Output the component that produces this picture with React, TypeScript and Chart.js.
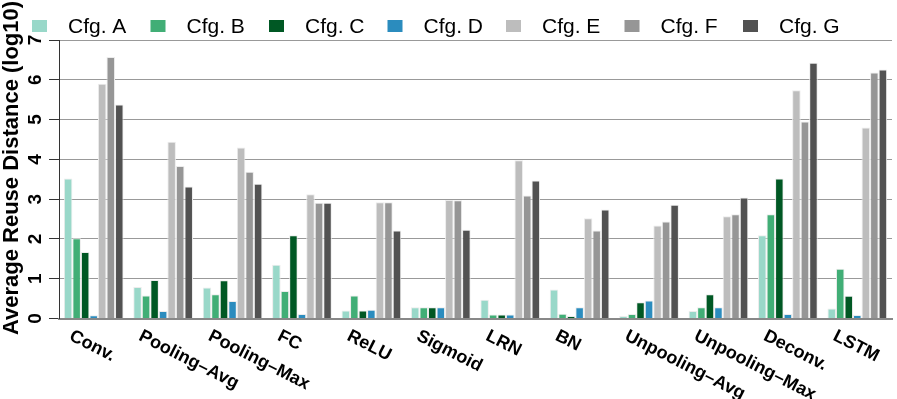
import React, { useEffect, useRef } from "react";
import { Chart, registerables } from "chart.js";

Chart.register(...registerables);

const categories = ["Conv.", "Pooling–Avg", "Pooling–Max", "FC", "ReLU", "Sigmoid", "LRN", "BN", "Unpooling–Avg", "Unpooling–Max", "Deconv.", "LSTM"];
const seriesNames = ["Cfg. A", "Cfg. B", "Cfg. C", "Cfg. D", "Cfg. E", "Cfg. F", "Cfg. G"];
const seriesColors = ["#99d8c9", "#41ae76", "#005824", "#2b8cbe", "#bdbdbd", "#969696", "#525252"];
const cfgA = [3.52, 0.79, 0.78, 1.35, 0.2, 0.28, 0.47, 0.73, 0.06, 0.19, 2.09, 0.25];
const cfgB = [2.02, 0.58, 0.61, 0.69, 0.58, 0.28, 0.1, 0.12, 0.11, 0.28, 2.62, 1.25];
const cfgC = [1.67, 0.97, 0.96, 2.09, 0.2, 0.28, 0.1, 0.06, 0.41, 0.61, 3.52, 0.57];
const cfgD = [0.08, 0.19, 0.44, 0.11, 0.22, 0.28, 0.1, 0.28, 0.45, 0.28, 0.11, 0.09];
const cfgE = [5.9, 4.44, 4.3, 3.12, 2.92, 2.98, 3.98, 2.52, 2.34, 2.57, 5.74, 4.8];
const cfgF = [6.57, 3.83, 3.69, 2.91, 2.92, 2.97, 3.09, 2.21, 2.44, 2.62, 4.95, 6.18];
const cfgG = [5.38, 3.32, 3.39, 2.91, 2.21, 2.23, 3.47, 2.74, 2.86, 3.04, 6.43, 6.26];
const seriesValues = [cfgA, cfgB, cfgC, cfgD, cfgE, cfgF, cfgG];
const yTitle = "Average Reuse Distance (log10)";
const yMin = 0;
const yMax = 7;

const FONT = "'Liberation Sans', Arial, Helvetica, sans-serif";

const decorPlugin = {
  id: "decor",
  afterDraw(chart: any) {
    const ctx = chart.ctx;
    const xs = chart.scales.x;
    const ys = chart.scales.y;
    // x labels
    ctx.save();
    ctx.fillStyle = "#000";
    ctx.font = `bold 18px ${FONT}`;
    ctx.textAlign = "left";
    ctx.textBaseline = "top";
    chart.data.labels.forEach((lab: string, i: number) => {
      const px = xs.getPixelForValue(i);
      ctx.save();
      ctx.translate(px - 19, 327);
      ctx.rotate((27 * Math.PI) / 180);
      ctx.fillText(lab, 0, 0);
      ctx.restore();
    });
    ctx.restore();
    // y tick labels (rotated)
    ctx.save();
    ctx.fillStyle = "#000";
    ctx.font = `bold 19px ${FONT}`;
    ctx.textAlign = "center";
    ctx.textBaseline = "middle";
    ys.ticks.forEach((t: any) => {
      const py = ys.getPixelForValue(t.value);
      ctx.save();
      ctx.translate(36, py);
      ctx.rotate(-Math.PI / 2);
      ctx.fillText(String(t.value), 0, 0);
      ctx.restore();
    });
    ctx.restore();
    // y title
    ctx.save();
    ctx.fillStyle = "#000";
    ctx.font = `bold 22px ${FONT}`;
    ctx.textAlign = "center";
    ctx.textBaseline = "middle";
    ctx.translate(12, 168);
    ctx.rotate(-Math.PI / 2);
    ctx.fillText(yTitle, 0, 0);
    ctx.restore();
    // legend
    ctx.save();
    ctx.font = `21px ${FONT}`;
    ctx.textAlign = "left";
    ctx.textBaseline = "middle";
    chart.data.datasets.forEach((ds: any, i: number) => {
      const x0 = 32 + i * 118.5;
      ctx.fillStyle = ds.backgroundColor;
      ctx.fillRect(x0, 20, 15, 12);
      ctx.fillStyle = "#000";
      ctx.fillText(ds.label, x0 + 36, 27);
    });
    ctx.restore();
  },
};

export default function App() {
  const ref = useRef<HTMLCanvasElement | null>(null);
  useEffect(() => {
    if (!ref.current) return;
    const chart = new Chart(ref.current, {
      type: "bar",
      data: {
        labels: categories,
        datasets: seriesNames.map((name, i) => ({
          label: name,
          data: seriesValues[i],
          backgroundColor: seriesColors[i],
          borderColor: "#ececec",
          borderWidth: 1,
          barPercentage: 1,
          categoryPercentage: 0.86,
        })),
      },
      options: {
        animation: false,
        responsive: true,
        maintainAspectRatio: false,
        layout: { padding: { top: 40, right: 5, left: 0, bottom: 0 } },
        plugins: { legend: { display: false }, tooltip: { enabled: false } },
        scales: {
          x: {
            ticks: { display: false },
            grid: { display: false },
            border: { color: "#888", width: 2 },
            afterFit: (s: any) => {
              s.height = 80.5;
            },
          },
          y: {
            min: yMin,
            max: yMax,
            ticks: {
              stepSize: 1,
              color: "rgba(0,0,0,0)",
              font: { family: FONT, size: 19, weight: "bold" },
              padding: 9,
            },
            grid: {
              color: "#999",
              borderDash: [1, 3],
              tickColor: "#333",
              tickBorderDash: [],
              tickLength: 10,
            },
            border: { color: "#333", width: 1 },
            afterFit: (s: any) => {
              s.width = 59;
            },
          },
        },
      },
      plugins: [decorPlugin],
    } as any);
    return () => chart.destroy();
  }, []);
  return (
    <div style={{ position: "absolute", left: 0, top: 0, width: 897, height: 399 }}>
      <canvas ref={ref} />
    </div>
  );
}
